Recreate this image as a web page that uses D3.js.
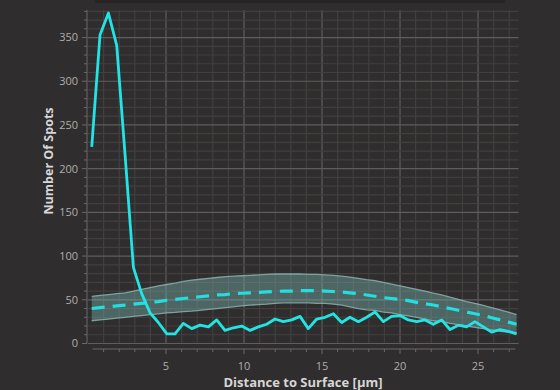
<!DOCTYPE html>
<html>
<head>
<meta charset="utf-8">
<script src="https://cdn.jsdelivr.net/npm/d3@7"></script>
<style>
html,body{margin:0;padding:0;background:#2f2d2d;}
svg{display:block;}
</style>
</head>
<body>
<svg id="chart" width="560" height="390"></svg>
<script>
// distance to surface (µm), bin centers
const distances = [0.24,0.77,1.31,1.84,2.38,2.91,3.44,3.98,4.51,5.05,5.58,6.11,6.65,7.18,7.72,8.25,8.78,9.32,9.85,10.39,10.92,11.45,11.99,12.52,13.06,13.59,14.12,14.66,15.19,15.73,16.26,16.79,17.33,17.86,18.40,18.93,19.46,20.00,20.53,21.07,21.60,22.13,22.67,23.20,23.74,24.27,24.80,25.34,25.87,26.41,26.94,27.47];
// observed spot counts
const spots = [225,353,378,341,215,87,57,35,24,11,11,23,17,21,19,27,15,18,20,15,19,22,28,25,27,31,17,28,30,34,24,30,25,30,36,25,31,32,27,25,27,22,27,16,21,19,25,19,13,16,14,11];
// random-distribution mean (dashed)
const meanSpots = [40,41,42,43,44,45,46,47,48,49.5,50.5,51.5,52.5,53.5,54.5,55.5,56,57,57.5,58,58.5,59,59.5,60,60,60.5,60.5,60.5,60,59.5,59,58,57,55.5,54,52.5,51.5,50.5,49,47,45.5,44,42,40,38,36,34,32,29.5,27,24.5,22];
// band upper / lower
const bandUpper = [54,55,56,57,58,60,62,64,66,67.5,69,71,72.5,73.5,74.5,75.5,76.5,77,77.5,78,78.5,79,79.5,79.5,79.5,79.5,79,79,78.5,78,77,76,74.5,73,72,70,68,66,64,62,60,57.5,55.5,53,50.5,48,46,43.5,41,38.5,36,33];
const bandLower = [26,27,28,29,30,31,32,33,34,35,35.5,36.5,37,38,39,40,41,42,43,44,44.5,45,46,46.5,46.5,46.5,46.5,46,46,45,44,42,40,38.5,38,36,35,33,31.5,30,28,26,25,23,21.5,20,18.5,17,15.5,14,13,12];
const xTicks = [5,10,15,20,25];
const yTicks = [0,50,100,150,200,250,300,350];
const xTitle = "Distance to Surface [µm]";
const yTitle = "Number Of Spots";

const svg = d3.select("#chart");
const pL = 88, pR = 518.6, pT = 10, pB = 343.5;
const x = d3.scaleLinear().domain([0, 27.6]).range([pL, pR]);
const y = d3.scaleLinear().domain([0, 381.5]).range([pB, pT]);
const font = "'Open Sans', 'Noto Sans', sans-serif";

// top strip
svg.append("rect").attr("x", 95).attr("y", 0).attr("width", 410).attr("height", 3).attr("fill", "#262424");

// grid
const g = svg.append("g");
g.selectAll("line.v").data(d3.range(1, 28)).join("line")
  .attr("x1", d => x(d)).attr("x2", d => x(d)).attr("y1", pT).attr("y2", pB)
  .attr("stroke", d => d % 5 === 0 ? "#5f5d5d" : "#423f3f").attr("stroke-width", 1.2);
g.selectAll("line.h").data(d3.range(10, 381, 10)).join("line")
  .attr("x1", pL).attr("x2", pR).attr("y1", d => y(d)).attr("y2", d => y(d))
  .attr("stroke", d => d % 50 === 0 ? "#5f5d5d" : "#423f3f").attr("stroke-width", 1.2);
g.append("line").attr("x1", pL).attr("x2", pR).attr("y1", y(0)).attr("y2", y(0))
  .attr("stroke", "#5f5d5d");

// band
const area = d3.area().x((d, i) => x(distances[i])).y0((d, i) => y(bandLower[i])).y1(d => y(d));
svg.append("path").datum(bandUpper).attr("d", area)
  .attr("fill", "rgba(118,178,174,0.42)");
const lineGen = d3.line().x((d, i) => x(distances[i])).y(d => y(d));
svg.append("path").datum(bandUpper).attr("d", lineGen)
  .attr("fill", "none").attr("stroke", "#8fb8b4").attr("stroke-width", 1.3).attr("stroke-opacity", 0.8);
svg.append("path").datum(bandLower).attr("d", lineGen)
  .attr("fill", "none").attr("stroke", "#8fb8b4").attr("stroke-width", 1.3).attr("stroke-opacity", 0.8);

// mean dashed
svg.append("path").datum(meanSpots).attr("d", lineGen)
  .attr("fill", "none").attr("stroke", "#22dede").attr("stroke-width", 3.2)
  .attr("stroke-dasharray", "13,8");

// observed solid
svg.append("path").datum(spots).attr("d", lineGen)
  .attr("fill", "none").attr("stroke", "#22e4e4").attr("stroke-width", 2.8)
  .attr("stroke-linejoin", "round");

// y axis
const yAxis = svg.append("g").attr("transform", `translate(${pL - 1},0)`);
yAxis.append("line").attr("x1", 0).attr("x2", 0).attr("y1", pT).attr("y2", pB)
  .attr("stroke", "#6a6868");
yAxis.selectAll("line.t").data(d3.range(0, 381, 10)).join("line")
  .attr("x1", d => d % 50 === 0 ? -5 : -3).attr("x2", 0)
  .attr("y1", d => y(d)).attr("y2", d => y(d)).attr("stroke", "#6a6868");
yAxis.selectAll("text").data(yTicks).join("text")
  .attr("x", -9).attr("y", d => y(d)).attr("dy", "0.35em")
  .attr("text-anchor", "end").attr("fill", "#b0aeae")
  .attr("font-family", font).attr("font-size", 11).text(d => d);

// x axis
const xAxisY = 349;
const xAxis = svg.append("g");
xAxis.append("line").attr("x1", x(0.3)).attr("x2", x(27.4)).attr("y1", xAxisY).attr("y2", xAxisY)
  .attr("stroke", "#6a6868");
xAxis.selectAll("line.t").data(d3.range(1, 28)).join("line")
  .attr("x1", d => x(d)).attr("x2", d => x(d)).attr("y1", xAxisY).attr("y2", d => xAxisY + (d % 5 === 0 ? 5 : 3))
  .attr("stroke", "#6a6868");
xAxis.selectAll("text").data(xTicks).join("text")
  .attr("x", d => x(d)).attr("y", 366).attr("dy", "0.35em")
  .attr("text-anchor", "middle").attr("fill", "#b0aeae")
  .attr("font-family", font).attr("font-size", 11).text(d => d);

// titles
svg.append("text").attr("x", 303).attr("y", 382).attr("dy", "0.35em")
  .attr("text-anchor", "middle").attr("fill", "#d8d6d6")
  .attr("font-family", font).attr("font-size", 13).attr("font-weight", "bold").text(xTitle);
svg.append("text").attr("transform", "translate(49,161) rotate(-90)").attr("dy", "0.35em")
  .attr("text-anchor", "middle").attr("fill", "#d8d6d6")
  .attr("font-family", font).attr("font-size", 12.5).attr("font-weight", "bold").text(yTitle);
</script>
</body>
</html>
